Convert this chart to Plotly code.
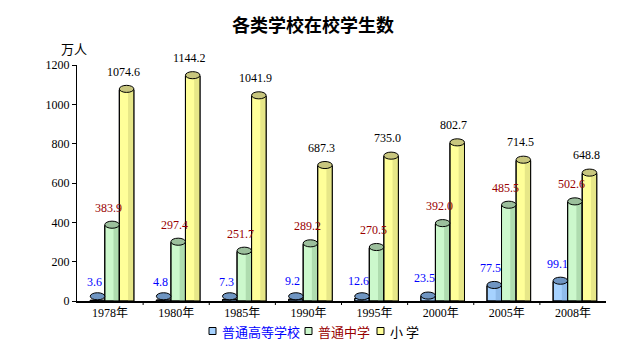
import plotly.graph_objects as go

years = ["1978年", "1980年", "1985年", "1990年", "1995年", "2000年", "2005年", "2008年"]
higher = [3.6, 4.8, 7.3, 9.2, 12.6, 23.5, 77.5, 99.1]
middle = [383.9, 297.4, 251.7, 289.2, 270.5, 392.0, 485.5, 502.6]
primary = [1074.6, 1144.2, 1041.9, 687.3, 735.0, 802.7, 714.5, 648.8]
names = ["普通高等学校", "普通中学", "小 学"]
y_ticks = [0, 200, 400, 600, 800, 1000, 1200]

series = [higher, middle, primary]
body = ["#A6D2FF", "#CCF8CC", "#FFFF99"]
shade = ["#8AB6E6", "#A9D6A9", "#E2E284"]
topc = ["#6F95C2", "#9CBF9C", "#C8C67E"]
labc = ["#0000FF", "#990000", "#000000"]
offsets = [-0.30, -0.08, 0.14]
W = 0.22

FONT = "Liberation Serif, Noto Sans CJK SC, serif"
xi = list(range(len(years)))

fig = go.Figure()
for k, vals in enumerate(series):
    fig.add_trace(go.Bar(
        x=xi, y=vals, width=W, offset=offsets[k], name=names[k],
        marker=dict(color=body[k], line=dict(color="black", width=1)),
        showlegend=False, hoverinfo="skip"))
    fig.add_trace(go.Bar(
        x=xi, y=vals, width=W * 0.4, offset=offsets[k] + W * 0.6,
        marker=dict(color=shade[k], line=dict(width=0)), opacity=0.8,
        showlegend=False, hoverinfo="skip"))
    fig.add_trace(go.Bar(
        x=xi, y=vals, width=W, offset=offsets[k],
        marker=dict(color="rgba(0,0,0,0)", line=dict(color="black", width=1)),
        showlegend=False, hoverinfo="skip"))

shapes = []
annotations = []
EH = 36  # ellipse height in data units
for k, vals in enumerate(series):
    for i, v in enumerate(vals):
        c = max(v, EH / 2 + 2)
        shapes.append(dict(type="circle", xref="x", yref="y",
                           x0=i + offsets[k], x1=i + offsets[k] + W,
                           y0=c - EH / 2 + 4, y1=c + EH / 2 + 4,
                           fillcolor=topc[k], line=dict(color="black", width=1),
                           layer="above"))
        annotations.append(dict(x=i + offsets[k] + W / 2 - 0.05, y=v, yshift=18,
                                text=f"{v:.1f}", showarrow=False,
                                font=dict(family=FONT, size=12, color=labc[k]),
                                xanchor="center", yanchor="middle"))

# unit label
annotations.append(dict(xref="paper", yref="paper", x=-0.005, y=1.0, yshift=17,
                        text="万人", showarrow=False,
                        font=dict(family="Noto Sans CJK SC", size=13, color="black"),
                        xanchor="center", yanchor="middle"))

# category boundary tick marks on the x axis
for b in range(1, len(years)):
    shapes.append(dict(type="line", xref="x", yref="paper", x0=b - 0.5, x1=b - 0.5,
                       y0=0, y1=-0.017, line=dict(color="black", width=1)))

# legend (compact, as in the original)
leg_sq_x = [205, 301, 373]   # pixel x of legend squares
leg_y = 331
for k in range(3):
    x0 = leg_sq_x[k] / 626
    shapes.append(dict(type="rect", xref="paper", yref="paper",
                       x0=(leg_sq_x[k] - 77 + 4) / 529, x1=(leg_sq_x[k] - 77 + 11) / 529,
                       y0=(301 - leg_y - 3.5) / 236, y1=(301 - leg_y + 3.5) / 236,
                       fillcolor=body[k], line=dict(color="black", width=1)))
    annotations.append(dict(xref="paper", yref="paper",
                            x=(leg_sq_x[k] - 77 + 15) / 529, y=(301 - leg_y) / 236,
                            text=names[k], showarrow=False, xanchor="left", yanchor="middle",
                            font=dict(family="Noto Sans CJK SC", size=13, color=labc[k])))

fig.update_layout(
    width=626, height=352,
    margin=dict(l=77, r=20, t=65, b=51),
    paper_bgcolor="white", plot_bgcolor="white",
    barmode="overlay", showlegend=False,
    title=dict(text="<b>各类学校在校学生数</b>", x=0.5, xanchor="center",
               y=0.928, yanchor="middle",
               font=dict(family="Noto Sans CJK SC", size=18, color="black")),
    font=dict(family=FONT, size=12, color="black"),
    xaxis=dict(range=[-0.5, 7.5], tickmode="array", tickvals=xi, ticktext=years,
               showline=True, linecolor="black", linewidth=1.5,
               ticks="", showgrid=False, zeroline=False,
               tickfont=dict(family=FONT, size=12)),
    yaxis=dict(range=[0, 1200], tickvals=y_ticks,
               showline=True, linecolor="black", linewidth=1,
               ticks="outside", ticklen=4, tickcolor="black",
               showgrid=False, zeroline=False,
               tickfont=dict(family=FONT, size=12)),
    shapes=shapes, annotations=annotations,
)

fig.write_html("out.html")
